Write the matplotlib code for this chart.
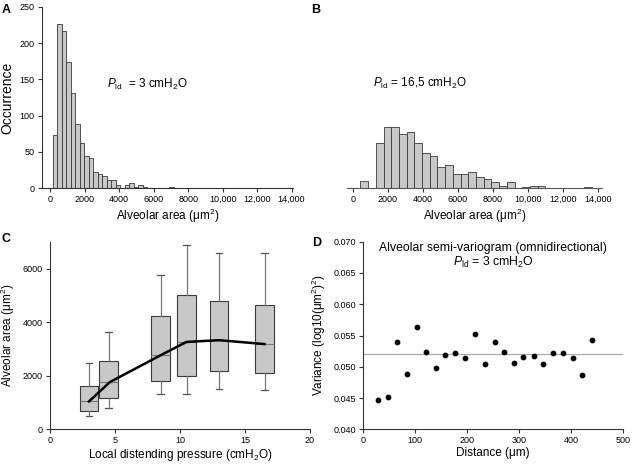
import numpy as np
import matplotlib
matplotlib.use("Agg")
import matplotlib.pyplot as plt

plt.rcParams['font.family'] = ['Liberation Sans', 'DejaVu Sans']
plt.rcParams['mathtext.fontset'] = 'custom'
plt.rcParams['mathtext.rm'] = 'Liberation Sans'
plt.rcParams['mathtext.it'] = 'Liberation Sans:italic'
plt.rcParams['mathtext.bf'] = 'Liberation Sans:bold'

# ---------------- data ----------------
# Panel A histogram (P_ld = 3 cmH2O)
a_bin_start = 150
a_bin_width = 260
a_counts = [73, 226, 216, 174, 131, 88, 62, 44, 42, 23, 20, 17, 11, 12, 4, 1,
            4, 7, 2, 5, 2, 0, 0, 0, 0, 1, 2, 1, 1, 1]

# Panel B histogram (P_ld = 16,5 cmH2O)
b_bin_start = 430
b_bin_width = 440
b_counts = [10, 0, 62, 85, 84, 75, 78, 62, 49, 45, 29, 32, 19, 19, 22, 15, 13,
            8, 3, 8, 0, 2, 3, 3, 0, 0, 0, 0, 0, 1.5]

hist_xticks = [0, 2000, 4000, 6000, 8000, 10000, 12000, 14000]
hist_xticklabels = ['0', '2000', '4000', '6000', '8000', '10,000', '12,000', '14,000']

# Panel C box plots
c_pressure = [3.0, 4.5, 8.5, 10.5, 13.0, 16.5]
c_whislo = [500, 790, 1300, 1310, 1500, 1450]
c_q1 = [700, 1160, 1810, 2000, 2160, 2100]
c_med = [1040, 1760, 2760, 3260, 3325, 3180]
c_q3 = [1600, 2560, 4225, 5000, 4775, 4650]
c_whishi = [2475, 3640, 5775, 6860, 6560, 6560]
c_line_x = [3.0, 4.6, 8.5, 10.5, 13.0, 16.5]
c_line_y = [1040, 1760, 2760, 3260, 3325, 3180]

# Panel D semi-variogram
d_distance = [28, 47, 65, 84, 103, 121, 140, 158, 177, 196, 215, 234, 253, 271,
              290, 308, 328, 346, 365, 384, 403, 421, 440]
d_variance = [0.04464, 0.04512, 0.05391, 0.04890, 0.05631, 0.05231, 0.04981,
              0.05188, 0.05215, 0.05140, 0.05524, 0.05039, 0.05391, 0.05242,
              0.05061, 0.05151, 0.05172, 0.05044, 0.05220, 0.05220, 0.05135,
              0.04869, 0.05423]
d_sill = 0.052

# ---------------- style ----------------
W, H = 632, 467
fig = plt.figure(figsize=(W / 100, H / 100), dpi=100)
TICK_FS = 6.5
LAB_FS = 8.5
SPINE_C = '#333333'
BAR_FC = '#c8c8c8'
BAR_EC = '#3a3a3a'


def axes_px(l, r, t, b):
    return fig.add_axes([l / W, 1 - b / H, (r - l) / W, (b - t) / H])


def style(ax, left=True):
    for s in ['top', 'right']:
        ax.spines[s].set_visible(False)
    ax.spines['bottom'].set_color(SPINE_C)
    ax.spines['left'].set_color(SPINE_C)
    ax.spines['bottom'].set_linewidth(0.8)
    ax.spines['left'].set_linewidth(0.8)
    if not left:
        ax.spines['left'].set_visible(False)
        ax.set_yticks([])
    ax.tick_params(direction='out', length=3, width=0.8, color=SPINE_C,
                   labelsize=TICK_FS, pad=2)


# Panel A
axA = axes_px(41.7, 293.3, 6.7, 188.3)
a_edges = a_bin_start + a_bin_width * np.arange(len(a_counts))
axA.bar(a_edges, a_counts, width=a_bin_width, align='edge', color=BAR_FC,
        edgecolor=BAR_EC, linewidth=0.6)
axA.set_xlim(-500, 14100)
axA.set_ylim(0, 250)
axA.set_yticks([0, 50, 100, 150, 200, 250])
axA.set_xticks(hist_xticks)
axA.set_xticklabels(hist_xticklabels)
style(axA)
axA.set_ylabel('Occurrence', fontsize=LAB_FS + 1.5, labelpad=4)
axA.set_xlabel('Alveolar area (μm$^2$)', fontsize=LAB_FS, labelpad=1.5)
axA.text(3300, 143, r'$P_{\mathrm{ld}}$  = 3 cmH$_2$O', fontsize=LAB_FS,
         ha='left', va='center')

# Panel B
axB = axes_px(346.7, 601.7, 6.7, 188.3)
b_edges = b_bin_start + b_bin_width * np.arange(len(b_counts))
axB.bar(b_edges, b_counts, width=b_bin_width, align='edge', color=BAR_FC,
        edgecolor=BAR_EC, linewidth=0.6)
axB.set_xlim(-350, 14200)
axB.set_ylim(0, 250)
axB.set_xticks(hist_xticks)
axB.set_xticklabels(hist_xticklabels)
style(axB, left=False)
axB.spines['bottom'].set_color('#555555')
axB.set_xlabel('Alveolar area (μm$^2$)', fontsize=LAB_FS, labelpad=1.5)
axB.text(1160, 145, r'$P_{\mathrm{ld}}$ = 16,5 cmH$_2$O', fontsize=LAB_FS,
         ha='left', va='center')

# Panel C
axC = axes_px(50, 310, 241.7, 429.3)
stats = []
for i in range(len(c_pressure)):
    stats.append(dict(whislo=c_whislo[i], q1=c_q1[i], med=c_med[i],
                      q3=c_q3[i], whishi=c_whishi[i], fliers=[]))
axC.bxp(stats, positions=c_pressure, widths=1.45, patch_artist=True,
        showfliers=False, manage_ticks=False,
        boxprops=dict(facecolor=BAR_FC, edgecolor=BAR_EC, linewidth=0.8),
        medianprops=dict(color='#777777', linewidth=0.8),
        whiskerprops=dict(color='#777777', linewidth=0.9),
        capprops=dict(color='#555555', linewidth=0.9),
        capwidths=0.5)
axC.plot(c_line_x, c_line_y, color='black', linewidth=1.8, zorder=5)
axC.set_xlim(0, 20)
axC.set_ylim(0, 7000)
axC.set_xticks([0, 5, 10, 15, 20])
axC.set_yticks([0, 2000, 4000, 6000])
style(axC)
axC.set_ylabel('Alveolar area (μm$^2$)', fontsize=LAB_FS, labelpad=4)
axC.set_xlabel('Local distending pressure (cmH$_2$O)', fontsize=LAB_FS, labelpad=1)

# Panel D
axD = axes_px(363.3, 623.3, 241.7, 429.3)
axD.axhline(d_sill, color='#aaaaaa', linewidth=0.9, zorder=1)
axD.scatter(d_distance, d_variance, s=10, color='black', zorder=3)
axD.set_xlim(0, 500)
axD.set_ylim(0.040, 0.070)
axD.set_xticks([0, 100, 200, 300, 400, 500])
axD.set_yticks([0.040, 0.045, 0.050, 0.055, 0.060, 0.065, 0.070])
axD.set_yticklabels(['0.040', '0.045', '0.050', '0.055', '0.060', '0.065', '0.070'])
style(axD)
axD.set_ylabel('Variance (log10(μm$^2$)$^2$)', fontsize=LAB_FS, labelpad=4)
axD.set_xlabel('Distance (μm)', fontsize=LAB_FS, labelpad=1)
axD.text(250, 0.0690, 'Alveolar semi-variogram (omnidirectional)',
         fontsize=LAB_FS + 0.3, ha='center', va='center')
axD.text(250, 0.0667, r'$P_{\mathrm{ld}}$ = 3 cmH$_2$O',
         fontsize=LAB_FS + 0.3, ha='center', va='center')

# Panel letters
for lab, x, y in [('A', 2, 10), ('B', 311, 10), ('C', 2, 239), ('D', 312, 243)]:
    fig.text(x / W, 1 - y / H, lab, fontsize=9, fontweight='bold',
             ha='left', va='center')

fig.savefig('out.png', dpi=100)
